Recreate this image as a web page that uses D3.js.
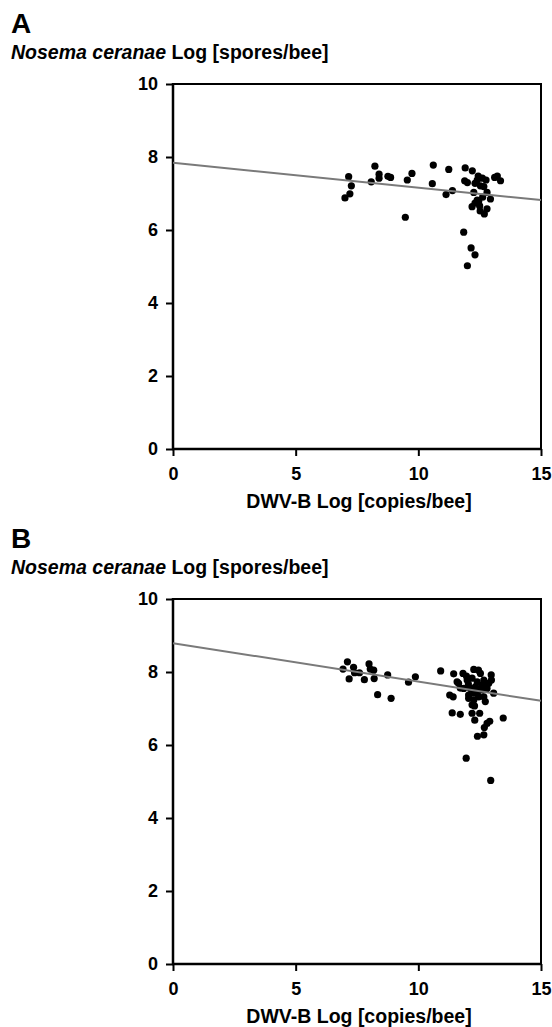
<!DOCTYPE html>
<html>
<head>
<meta charset="utf-8">
<script src="https://cdn.jsdelivr.net/npm/d3@7"></script>
<style>
  body { margin: 0; background: #fff; }
  svg text { font-family: "Liberation Sans", Arial, sans-serif; font-weight: bold; }
</style>
</head>
<body>
<div id="chart"></div>
<script>
// panel A: DWV-B log copies vs Nosema log spores
var dwvA = [7.16, 7.27, 7.01, 7.21, 8.23, 8.40, 8.40, 8.08, 8.76, 8.87, 9.74, 9.55, 9.47,
  10.61, 10.57, 11.24, 11.39, 11.13, 11.91, 12.20, 11.89, 12.00, 12.44, 12.61, 12.76,
  12.31, 12.53, 12.26, 12.80, 12.62, 12.94, 12.40, 12.31, 12.19, 12.50, 12.80, 12.52,
  12.69, 13.11, 13.22, 13.35, 11.85, 12.15, 12.31, 12.00, 12.40, 12.67, 12.46];
var nosA = [7.46, 7.21, 6.88, 6.99, 7.75, 7.53, 7.42, 7.32, 7.47, 7.44, 7.55, 7.37, 6.35,
  7.78, 7.27, 7.66, 7.08, 6.97, 7.70, 7.62, 7.35, 7.30, 7.48, 7.42, 7.37,
  7.28, 7.21, 7.03, 7.03, 6.90, 6.85, 6.82, 6.74, 6.64, 6.66, 6.58, 6.52,
  6.44, 7.44, 7.48, 7.35, 5.94, 5.51, 5.32, 5.02, 7.37, 7.19, 6.78];

// panel B
var dwvB = [6.93, 7.11, 7.36, 7.40, 7.60, 7.18, 7.80, 7.99, 8.04, 8.18, 8.20, 8.75, 8.34,
  8.89, 9.60, 9.88, 10.91, 11.44, 11.82, 12.26, 12.53, 12.97, 11.64, 11.99, 12.19, 12.40,
  12.67, 12.87, 11.85, 12.12, 12.33, 12.60, 12.80, 13.07, 11.28, 11.42, 12.05, 12.40,
  12.67, 12.26, 12.73, 12.19, 12.29, 11.38, 11.71, 12.19, 12.50, 12.30, 12.80, 12.91,
  13.46, 12.69, 12.41, 12.67, 11.95, 12.95, 11.58, 12.45, 12.80, 12.04, 12.40, 12.60,
  12.05, 12.46, 12.26, 11.96, 12.98, 11.71];
var nosB = [8.08, 8.28, 8.13, 7.98, 7.98, 7.81, 7.79, 8.22, 8.08, 8.05, 7.82, 7.92, 7.38,
  7.28, 7.72, 7.87, 8.03, 7.95, 7.96, 8.07, 7.96, 7.92, 7.69, 7.78, 7.83, 7.73,
  7.78, 7.69, 7.55, 7.55, 7.60, 7.51, 7.55, 7.42, 7.37, 7.32, 7.37, 7.42,
  7.32, 7.23, 7.19, 7.10, 7.07, 6.88, 6.84, 6.87, 6.87, 6.68, 6.59, 6.65,
  6.74, 6.48, 6.24, 6.28, 5.64, 5.03, 7.73, 8.05, 7.69, 7.67, 7.51, 7.64,
  7.28, 7.32, 7.42, 7.89, 7.78, 7.56];

// regression line end points at x = 0 and x = 15
var fitX = [0, 15];
var fitA = [7.84, 6.82];
var fitB = [8.79, 7.21];

var xTicks = [0, 5, 10, 15];
var yTicks = [0, 2, 4, 6, 8, 10];
var panels = ["A", "B"];

var svg = d3.select("#chart").append("svg")
    .attr("width", 552)
    .attr("height", 1027);

function drawPanel(label, dwv, nos, fit, top) {
  var g = svg.append("g").attr("transform", "translate(0," + top + ")");

  var x = d3.scaleLinear().domain([0, 15]).range([173, 541]);
  var y = d3.scaleLinear().domain([0, 10]).range([449, 84]);

  g.append("text")
    .attr("x", 11)
    .attr("y", 33)
    .style("font-size", "28px")
    .text(label);

  var sub = g.append("text")
    .attr("x", 11)
    .attr("y", 59)
    .style("font-size", "19.5px");
  sub.append("tspan").style("font-style", "italic").text("Nosema ceranae");
  sub.append("tspan").text(" Log [spores/bee]");

  // box top and right
  g.append("path")
    .attr("d", "M" + x(0) + "," + y(10) + "H" + x(15) + "V" + y(0))
    .attr("fill", "none")
    .attr("stroke", "#000")
    .attr("stroke-width", 2);

  var xAxis = g.append("g")
    .attr("transform", "translate(0," + y(0) + ")")
    .call(d3.axisBottom(x).tickValues(xTicks).tickSize(7).tickPadding(11).tickFormat(d3.format("d")));
  var yAxis = g.append("g")
    .attr("transform", "translate(" + x(0) + ",0)")
    .call(d3.axisLeft(y).tickValues(yTicks).tickSize(7).tickPadding(8).tickFormat(d3.format("d")));

  [xAxis, yAxis].forEach(function(a){
    a.select(".domain").attr("d", null);
    a.selectAll(".tick line").attr("stroke-width", 2);
    a.selectAll("text")
      .attr("fill", "#000")
      .style("font-size", "18px")
      .style("font-family", "Liberation Sans, Arial, sans-serif")
      .style("font-weight", "bold");
  });
  // axis lines drawn a little past the ends so the corners close
  g.append("line")
    .attr("x1", x(0) - 1).attr("x2", x(15) + 1)
    .attr("y1", y(0)).attr("y2", y(0))
    .attr("stroke", "#000").attr("stroke-width", 2.5);
  g.append("line")
    .attr("x1", x(0)).attr("x2", x(0))
    .attr("y1", y(10) - 1).attr("y2", y(0) + 1)
    .attr("stroke", "#000").attr("stroke-width", 2.5);

  g.append("text")
    .attr("x", (x(0) + x(15)) / 2 + 2)
    .attr("y", 508)
    .attr("text-anchor", "middle")
    .style("font-size", "19.5px")
    .text("DWV-B Log [copies/bee]");

  // points
  g.selectAll("circle")
    .data(d3.range(dwv.length))
    .enter().append("circle")
    .attr("cx", function(i){ return x(dwv[i]); })
    .attr("cy", function(i){ return y(nos[i]); })
    .attr("r", 3.6)
    .attr("fill", "#000");

  // regression line
  var line = d3.line()
    .x(function(d, i){ return x(fitX[i]); })
    .y(function(d){ return y(d); });
  g.append("path")
    .datum(fit)
    .attr("d", line)
    .attr("fill", "none")
    .attr("stroke", "#7a7a7a")
    .attr("stroke-width", 2);
}

drawPanel(panels[0], dwvA, nosA, fitA, 0);
drawPanel(panels[1], dwvB, nosB, fitB, 515);
</script>
</body>
</html>
